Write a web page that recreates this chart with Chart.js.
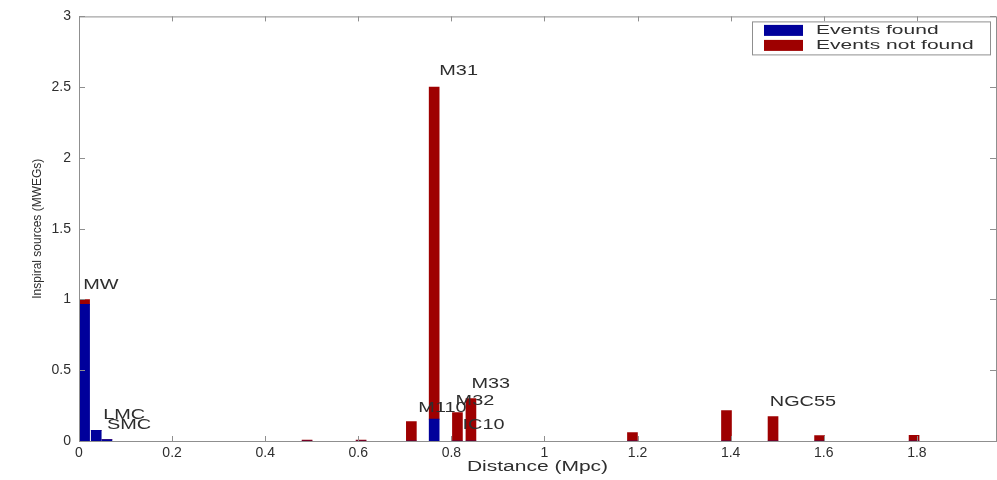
<!DOCTYPE html>
<html>
<head>
<meta charset="utf-8">
<script src="https://cdn.jsdelivr.net/npm/chart.js@4"></script>
<style>
  html, body { margin: 0; padding: 0; background: #fff; }
  #wrap { width: 997px; height: 480px; }
</style>
</head>
<body>
<div id="wrap"><canvas id="grafica"></canvas></div>
<script>
// distancia de cada barra (Mpc)
const distances = [0.012, 0.037, 0.06, 0.49, 0.606, 0.714, 0.763, 0.813, 0.842, 1.189, 1.391, 1.491, 1.591, 1.794];
// fuentes (MWEGs) con eventos encontrados / no encontrados
const eventsFound    = [0.965, 0.075, 0.01, 0, 0, 0, 0.155, 0, 0, 0, 0, 0, 0, 0];
const eventsNotFound = [0.035, 0, 0, 0.006, 0.006, 0.138, 2.345, 0.2, 0.3, 0.06, 0.215, 0.173, 0.038, 0.04];

// nombres de galaxias y donde van (en unidades de datos)
const galaxyNames = ['MW', 'LMC', 'SMC', 'M31', 'M110', 'M32', 'M33', 'IC10', 'NGC55'];
const galaxyNameX = [0.009, 0.052, 0.06, 0.774, 0.729, 0.809, 0.843, 0.824, 1.484];
const galaxyNameY = [1.10, 0.185, 0.115, 2.61, 0.234, 0.28, 0.40, 0.115, 0.276];

const xTickValues = [0, 0.2, 0.4, 0.6, 0.8, 1, 1.2, 1.4, 1.6, 1.8];
const yTickValues = [0, 0.5, 1, 1.5, 2, 2.5, 3];

const seriesNames = ['Events found', 'Events not found'];

const azul = 'rgb(0,0,155)';
const rojo = 'rgb(158,0,0)';
const colorTexto = '#2e2e2e';
const colorEjes = '#8f8f8f';
const fuente = '"Liberation Sans", Arial, sans-serif';

// texto estirado a lo ancho (la imagen original esta estirada)
function textoAncho(ctx, txt, x, y, k) {
  ctx.save();
  ctx.translate(x, y);
  ctx.scale(k, 1);
  ctx.fillText(txt, 0, 0);
  ctx.restore();
}

const marcoEjes = {
  id: 'marcoEjes',
  afterDatasetsDraw(chart) {
    const { ctx, chartArea: a, scales: { x, y } } = chart;
    ctx.save();

    // caja de ejes con ticks hacia adentro
    ctx.strokeStyle = colorEjes;
    ctx.lineWidth = 1;
    ctx.strokeRect(a.left + 0.5, a.top + 0.5, a.right - a.left, a.bottom - a.top);
    ctx.beginPath();
    x.ticks.forEach(t => {
      const px = Math.round(x.getPixelForValue(t.value)) + 0.5;
      ctx.moveTo(px, a.bottom); ctx.lineTo(px, a.bottom - 5);
      ctx.moveTo(px, a.top); ctx.lineTo(px, a.top + 5);
    });
    y.ticks.forEach(t => {
      const py = Math.round(y.getPixelForValue(t.value)) + 0.5;
      ctx.moveTo(a.left, py); ctx.lineTo(a.left + 6, py);
      ctx.moveTo(a.right, py); ctx.lineTo(a.right - 6, py);
    });
    ctx.stroke();

    // nombres de galaxias
    ctx.fillStyle = colorTexto;
    ctx.font = '14px ' + fuente;
    ctx.textAlign = 'left';
    ctx.textBaseline = 'middle';
    galaxyNames.forEach((n, i) => {
      textoAncho(ctx, n, x.getPixelForValue(galaxyNameX[i]), y.getPixelForValue(galaxyNameY[i]), 1.42);
    });

    // titulo eje x
    ctx.textAlign = 'center';
    textoAncho(ctx, 'Distance (Mpc)', (a.left + a.right) / 2, 467, 1.5);

    // leyenda
    const lx = a.right - 244, ly = a.top + 5, lw = 238, lh = 33;
    ctx.fillStyle = '#fff';
    ctx.fillRect(lx, ly, lw, lh);
    ctx.strokeStyle = colorEjes;
    ctx.strokeRect(lx + 0.5, ly + 0.5, lw, lh);
    ctx.font = '12.5px ' + fuente;
    ctx.textAlign = 'left';
    chart.data.datasets.forEach((ds, i) => {
      ctx.fillStyle = ds.backgroundColor;
      ctx.fillRect(lx + 12, ly + 3.5 + i * 15, 39, 11);
      ctx.fillStyle = colorTexto;
      textoAncho(ctx, ds.label, lx + 64, ly + 9 + i * 15, 1.68);
    });

    ctx.restore();
  }
};

new Chart(document.getElementById('grafica'), {
  type: 'bar',
  data: {
    datasets: [
      {
        label: seriesNames[0],
        data: distances.map((d, i) => ({ x: d, y: eventsFound[i] })),
        backgroundColor: azul,
        barThickness: 10
      },
      {
        label: seriesNames[1],
        data: distances.map((d, i) => ({ x: d, y: eventsNotFound[i] })),
        backgroundColor: rojo,
        barThickness: 10
      }
    ]
  },
  options: {
    responsive: true,
    maintainAspectRatio: false,
    animation: false,
    layout: { padding: { top: 12, right: 1, left: 0, bottom: 0 } },
    plugins: {
      legend: { display: false },
      tooltip: { enabled: false }
    },
    scales: {
      x: {
        type: 'linear',
        min: 0,
        max: 1.97,
        offset: false,
        stacked: true,
        grid: { display: false, drawTicks: false },
        border: { display: false },
        afterBuildTicks: s => { s.ticks = xTickValues.map(v => ({ value: v })); },
        afterFit: s => { s.height = 39; },
        ticks: {
          padding: 4,
          color: colorTexto,
          font: { size: 14, family: fuente },
          maxRotation: 0,
          autoSkip: false,
          callback: v => String(v)
        }
      },
      y: {
        min: 0,
        max: 3,
        stacked: true,
        grid: { display: false, drawTicks: false },
        border: { display: false },
        afterBuildTicks: s => { s.ticks = yTickValues.map(v => ({ value: v })); },
        afterFit: s => { s.width = 79; },
        ticks: {
          padding: 8,
          color: colorTexto,
          font: { size: 14, family: fuente },
          callback: v => String(v)
        },
        title: {
          display: true,
          text: 'Inspiral sources (MWEGs)',
          color: colorTexto,
          font: { size: 12, family: fuente },
          padding: { top: 30, bottom: 0 }
        }
      }
    }
  },
  plugins: [marcoEjes]
});
</script>
</body>
</html>
